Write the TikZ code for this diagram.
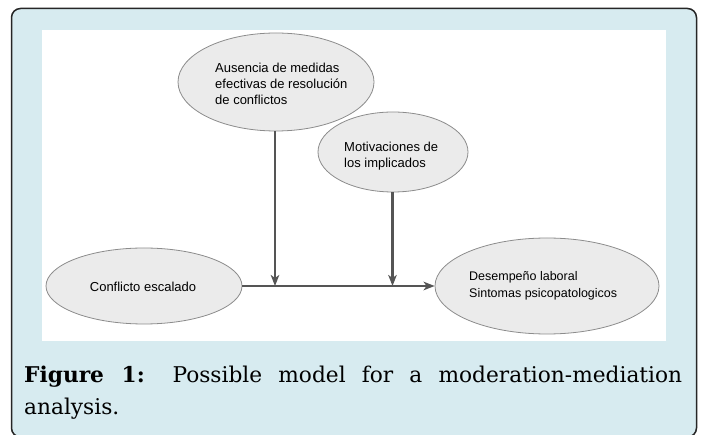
\documentclass[tikz,border=0pt]{standalone}
\usepackage{fontspec}
\setmainfont{DejaVu Serif}
\newfontfamily\diagfont{Liberation Sans}
\newfontfamily\capfont{DejaVu Serif}
\usetikzlibrary{arrows.meta,shapes.geometric}
\definecolor{framebg}{HTML}{D7EBF0}
\definecolor{ellfill}{HTML}{EBEBEB}
\definecolor{elldraw}{HTML}{8C8C8C}
\definecolor{arrcol}{HTML}{555555}
\tikzset{
  ell/.style={ellipse, draw=elldraw, line width=0.8pt, fill=ellfill, inner sep=0pt},
  lbl/.style={font=\diagfont\fontsize{13}{16}\selectfont, align=left, inner sep=0pt},
  arr/.style={draw=arrcol, line width=2.2pt, -{Stealth[length=11pt, width=8.5pt, inset=3pt]}},
  captext/.style={font=\capfont\fontsize{21.7}{26}\selectfont, inner sep=0pt, anchor=base west}
}
\begin{document}
\begin{tikzpicture}[x=1pt, y=-1pt]
\useasboundingbox (0,0) rectangle (701,435);
% frame
\draw[fill=framebg, draw=black!85, line width=1.5pt, rounded corners=9pt] (11.5,8.5) rectangle (696.5,437);
\fill[white] (42,30) rectangle (666,341);
% ellipses
\node[ell, minimum width=196pt, minimum height=98pt] (a) at (276,82) {};
\node[ell, minimum width=150pt, minimum height=80pt] (b) at (393,152) {};
\node[ell, minimum width=196pt, minimum height=76pt] (c) at (144,286) {};
\node[ell, minimum width=224pt, minimum height=96pt] (d) at (547,286) {};
% labels
\node[lbl, anchor=west] (ta) at (215,84) {Ausencia de medidas\\efectivas de resolución\\de conflictos};
\node[lbl, anchor=west] (tb) at (344,156) {Motivaciones de\\los implicados};
\node[lbl] (tc) at (143,287) {Conflicto escalado};
\node[lbl, anchor=west, font=\diagfont\fontsize{12.5}{16.5}\selectfont] (td) at (469,286) {Desempeño laboral\\Sintomas psicopatologicos};
% connectors
\coordinate (j1) at (275,286);
\coordinate (j2) at (392.5,286);
\draw[arr] (c.east) -- (d.west);
\draw[arr] (j1 |- a.south) -- (j1);
\draw[arr] (j2 |- b.south) -- (j2);
% caption
\node[captext] (cap1) at (24,382) {\makebox[658pt][s]{\textbf{Figure 1:} Possible model for a moderation-mediation}};
\node[captext] (cap2) at (24,414) {analysis.};
\end{tikzpicture}
\end{document}
